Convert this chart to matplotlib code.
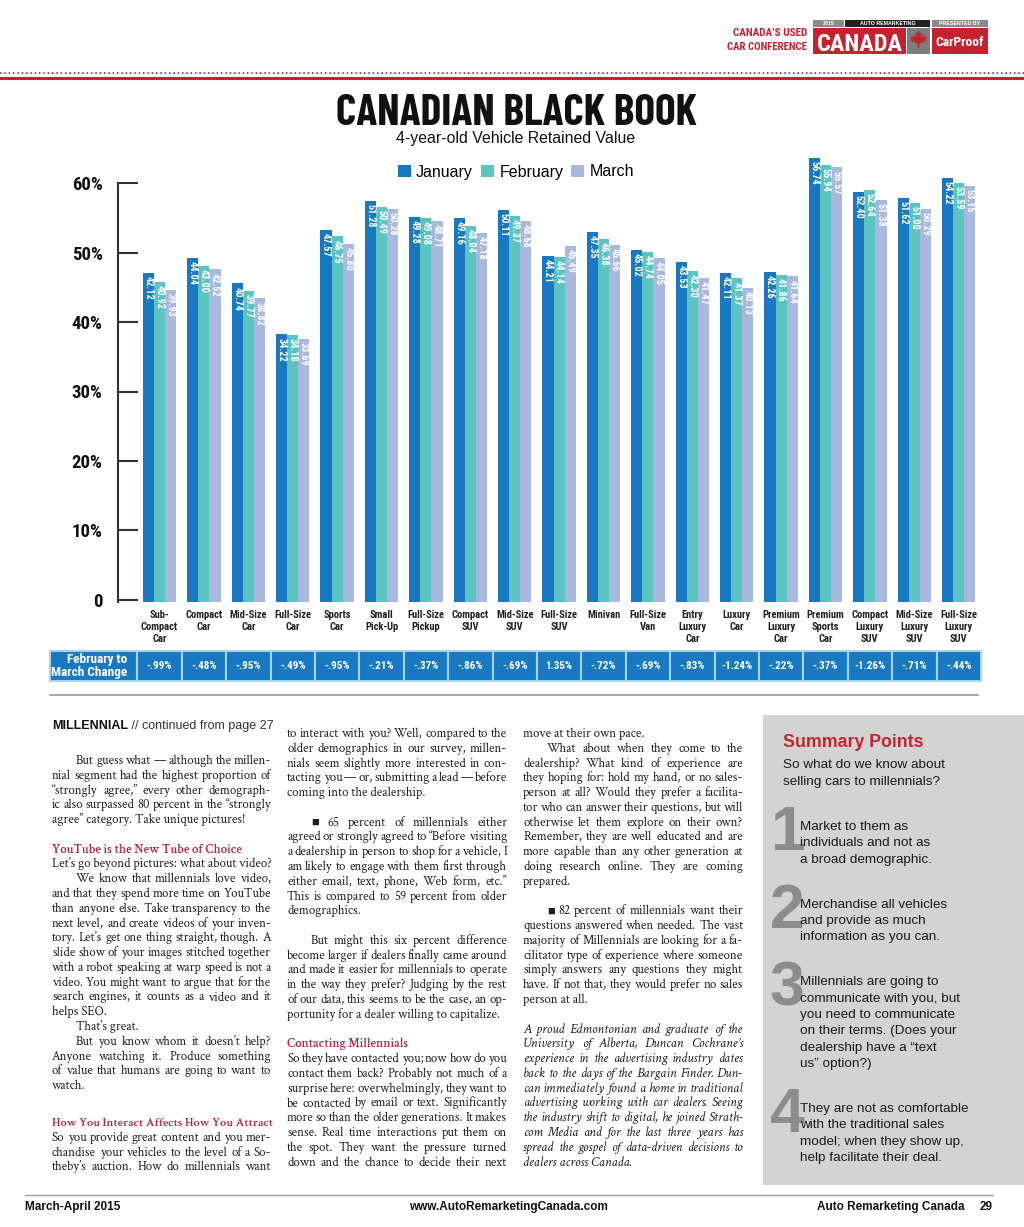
import matplotlib
matplotlib.use("Agg")
import numpy as np
import matplotlib.pyplot as plt
from matplotlib.font_manager import FontProperties
from matplotlib.patches import Rectangle, Polygon

# ---- chart data -------------------------------------------------------------
categories = ["Sub-\nCompact\nCar", "Compact\nCar", "Mid-Size\nCar", "Full-Size\nCar",
              "Sports\nCar", "Small\nPick-Up", "Full-Size\nPickup", "Compact\nSUV",
              "Mid-Size\nSUV", "Full-Size\nSUV", "Minivan", "Full-Size\nVan",
              "Entry\nLuxury\nCar", "Luxury\nCar", "Premium\nLuxury\nCar",
              "Premium\nSports\nCar", "Compact\nLuxury\nSUV", "Mid-Size\nLuxury\nSUV",
              "Full-Size\nLuxury\nSUV"]
january = [42.12, 44.04, 40.74, 34.22, 47.57, 51.28, 49.28, 49.16, 50.11, 44.21,
           47.35, 45.02, 43.53, 42.11, 42.26, 56.74, 52.40, 51.62, 54.22]
february = [40.92, 43.00, 39.77, 34.18, 46.75, 50.49, 49.08, 48.04, 49.37, 44.14,
            46.38, 44.74, 42.30, 41.37, 41.86, 55.94, 52.64, 51.00, 53.59]
march = [39.93, 42.52, 38.82, 33.69, 45.80, 50.28, 48.71, 47.18, 48.68, 45.49,
         45.66, 44.05, 41.47, 40.13, 41.64, 55.57, 51.38, 50.29, 53.15]
change = ["-.99%", "-.48%", "-.95%", "-.49%", "-.95%", "-.21%", "-.37%", "-.86%",
          "-.69%", "1.35%", "-.72%", "-.69%", "-.83%", "-1.24%", "-.22%", "-.37%",
          "-1.26%", "-.71%", "-.44%"]
y_ticks = [0, 10, 20, 30, 40, 50, 60]
y_tick_labels = ["0", "10%", "20%", "30%", "40%", "50%", "60%"]
series_names = ["January", "February", "March"]

# ---- page text --------------------------------------------------------------
col1 = [
    ">But guess what \u2014 although the millen-",
    "nial segment had the highest proportion of",
    "\u201cstrongly agree,\u201d every other demograph-",
    "ic also surpassed 80 percent in the \u201cstrongly",
    "agree\u201d category. Take unique pictures!|",
    "",
    "#YouTube is the New Tube of Choice",
    "Let\u2019s go beyond pictures: what about video?|",
    ">We know that millennials love video,",
    "and that they spend more time on YouTube",
    "than anyone else. Take transparency to the",
    "next level, and create videos of your inven-",
    "tory. Let\u2019s get one thing straight, though.  A",
    "slide show of your images stitched together",
    "with a robot speaking at warp speed is not a",
    "video. You might want to argue that for the",
    "search engines, it counts as a video and it",
    "helps SEO.|",
    ">That\u2019s great.|",
    ">But you know whom it doesn\u2019t help?",
    "Anyone watching it. Produce something",
    "of value that humans are going to want to",
    "watch.|",
    "",
    "..",
    "#How You Interact Affects How You Attract",
    "So you provide great content and you mer-",
    "chandise your vehicles to the level of a So-",
    "theby\u2019s auction. How do millennials want",
]
col2 = [
    "to interact with you? Well, compared to the",
    "older demographics in our survey, millen-",
    "nials seem slightly more interested in con-",
    "tacting you \u2014 or, submitting a lead \u2014 before",
    "coming into the dealership.|",
    "",
    ">\u25a0 65 percent of millennials either",
    "agreed or strongly agreed to \u201cBefore visiting",
    "a dealership in person to shop for a vehicle, I",
    "am likely to engage with them first through",
    "either email, text, phone, Web form, etc.\u201d",
    "This is compared to 59 percent from older",
    "demographics.|",
    "",
    ">But might this six percent difference",
    "become larger if dealers finally came around",
    "and made it easier for millennials to operate",
    "in the way they prefer? Judging by the rest",
    "of our data, this seems to be the case, an op-",
    "portunity for a dealer willing to capitalize.|",
    "",
    "#Contacting Millennials",
    "So they have contacted you; now how do you",
    "contact them back? Probably not much of a",
    "surprise here: overwhelmingly, they want to",
    "be contacted by email or text. Significantly",
    "more so than the older generations. It makes",
    "sense. Real time interactions put them on",
    "the spot. They want the pressure turned",
    "down and the chance to decide their next",
]
col3 = [
    "move at their own pace.|",
    ">What about when they come to the",
    "dealership? What kind of experience are",
    "they hoping for: hold my hand, or no sales-",
    "person at all? Would they prefer a facilita-",
    "tor who can answer their questions, but will",
    "otherwise let them explore on their own?",
    "Remember, they are well educated and are",
    "more capable than any other generation at",
    "doing research online. They are coming",
    "prepared.|",
    "",
    ">\u25a0 82 percent of millennials want their",
    "questions answered when needed. The vast",
    "majority of Millennials are looking for a fa-",
    "cilitator type of experience where someone",
    "simply answers any questions they might",
    "have. If not that, they would prefer no sales",
    "person at all.|",
    "",
    "~A proud Edmontonian and graduate of the",
    "~University of Alberta, Duncan Cochrane\u2019s",
    "~experience in the advertising industry dates",
    "~back to the days of the Bargain Finder.  Dun-",
    "~can immediately found a home in traditional",
    "~advertising working with car dealers.  Seeing",
    "~the industry shift to digital, he joined Strath-",
    "~com Media and for the last three years has",
    "~spread the gospel of data-driven decisions to",
    "~dealers across Canada.|",
]
summary_intro = ["So what do we know about", "selling cars to millennials?"]
summary_points = [
    ["Market to them as", "individuals and not as", "a broad demographic."],
    ["Merchandise all vehicles", "and provide as much", "information as you can."],
    ["Millennials are going to", "communicate with you, but", "you need to communicate",
     "on their terms. (Does your", "dealership have a \u201ctext", "us\u201d option?)"],
    ["They are not as comfortable", "with the traditional sales",
     "model; when they show up,", "help facilitate their deal."],
]

# ---- style ------------------------------------------------------------------
W, H = 1024, 1227
C_JAN, C_FEB, C_MAR = "#1878c1", "#5bc4c1", "#a9b8de"
RED = "#c5212f"
HEAD_RED = "#b3253a"
INK = "#231f20"
COND = ["Roboto Condensed", "PT Sans Narrow", "DejaVu Sans"]
TITLE = ["Barlow Condensed", "Roboto Condensed", "DejaVu Sans"]
SANS = ["Liberation Sans", "DejaVu Sans"]
SERIF = ["Crimson Text", "Liberation Serif", "DejaVu Serif"]

fig = plt.figure(figsize=(W / 100, H / 100), dpi=100)
renderer = fig.canvas.get_renderer()

page = fig.add_axes([0, 0, 1, 1])
page.set_xlim(0, W)
page.set_ylim(H, 0)
page.axis("off")


def tw(s, prop):
    return renderer.get_text_width_height_descent(s, prop, ismath=False)[0]


def space_w(prop):
    return tw("a a", prop) - tw("aa", prop)


def fitted(text, prop, width):
    p = prop.copy()
    p.set_size(p.get_size() * width / tw(text, p))
    return p


def split_words(text):
    return [w for w in text.split(" ") if w]


def natural(text, prop):
    words = split_words(text)
    return sum(tw(w, prop) for w in words) + (len(words) - 1) * space_w(prop)


def parse(raw, x0):
    last = raw.endswith("|")
    t = raw.rstrip("|")
    kind, left = "body", x0
    if t.startswith("#"):
        kind, t, last = "head", t[1:], True
    elif t.startswith("~"):
        kind, t = "ital", t[1:]
    if t.startswith(">"):
        left, t = x0 + 24, t[1:]
    return kind, t, left, last


def calibrate(columns, kind, prop):
    # choose a size so that a typical justified line fills its measure
    ratios = []
    for lines, x0, x1 in columns:
        for raw in lines:
            if raw in ("", ".."):
                continue
            k, t, left, last = parse(raw, x0)
            if k == kind and not last:
                ratios.append(natural(t, prop) / (x1 - left))
    p = prop.copy()
    p.set_size(prop.get_size() * 0.975 / np.median(ratios))
    return p


def put_line(text, x0, x1, y, prop, color, justify):
    if not justify:
        p = prop
        if tw(text, p) > x1 - x0:
            p = fitted(text, p, x1 - x0)
        page.text(x0, y, text, fontproperties=p, color=color, va="baseline")
        return
    p = prop.copy()
    words = split_words(text)
    for _ in range(15):
        widths = [tw(w, p) for w in words]
        gap = (x1 - x0 - sum(widths)) / (len(words) - 1)
        if gap >= 0.6 * space_w(p):
            break
        p.set_size(p.get_size() * 0.985)
    x = x0
    for w, wd in zip(words, widths):
        page.text(x, y, w, fontproperties=p, color=color, va="baseline")
        x += wd + gap


columns = [(col1, 52, 271), (col2, 287, 507), (col3, 523, 743)]
body = calibrate(columns, "body", FontProperties(family=SERIF, size=10))
ital = calibrate(columns, "ital", FontProperties(family=SERIF, size=10, style="italic"))
head = FontProperties(family=SERIF, size=body.get_size(), weight=600)


def draw_column(lines, x0, x1, y, step=14.78):
    for raw in lines:
        if raw == "":
            y += step
            continue
        if raw == "..":
            y += step / 2
            continue
        kind, t, left, last = parse(raw, x0)
        prop = {"body": body, "ital": ital, "head": head}[kind]
        color = HEAD_RED if kind == "head" else INK
        put_line(t, left, x1, y, prop, color, not last)
        y += step


# ---- masthead ---------------------------------------------------------------
hp = FontProperties(family=COND, size=10, weight="bold")
page.text(807, 36, "CANADA\u2019S USED", ha="right", va="baseline", color=RED,
          fontproperties=fitted("CANADA\u2019S USED", hp, 74))
page.text(807, 50, "CAR CONFERENCE", ha="right", va="baseline", color=RED,
          fontproperties=fitted("CAR CONFERENCE", hp, 79))
for (x, w, c, t) in [(813, 31, "#8a8a8a", "2015"), (845, 85, "#222222", "AUTO REMARKETING"),
                     (932, 56, "#8a8a8a", "PRESENTED BY")]:
    page.add_patch(Rectangle((x, 20), w, 7, fc=c, ec="none"))
    page.text(x + w / 2, 23.7, t, ha="center", va="center", color="white", fontsize=3.8,
              family=SANS, fontweight="bold")
page.add_patch(Rectangle((813, 28), 93, 26, fc=RED, ec="none"))
page.text(859.5, 51, "CANADA", ha="center", va="baseline", color="white",
          fontproperties=fitted("CANADA", FontProperties(family=COND, size=20, weight="bold"), 86))
page.add_patch(Rectangle((907, 28), 23, 26, fc="#7d7d7d", ec="none"))
leaf = [(0, 1), (0.18, 0.62), (0.35, 0.72), (0.3, 0.3), (0.62, 0.5), (0.55, 0.32),
        (0.85, 0.28), (0.7, 0.05), (0.78, -0.05), (0.15, -0.35), (0.08, -0.35),
        (0.08, -0.75), (-0.08, -0.75), (-0.08, -0.35), (-0.15, -0.35), (-0.78, -0.05),
        (-0.7, 0.05), (-0.85, 0.28), (-0.55, 0.32), (-0.62, 0.5), (-0.3, 0.3),
        (-0.35, 0.72), (-0.18, 0.62)]
page.add_patch(Polygon([(918.5 + 10 * a, 40 - 10 * b) for a, b in leaf], fc=RED, ec="none"))
page.add_patch(Rectangle((932, 28), 56, 26, fc=RED, ec="none"))
page.text(960, 46, "CarProof", ha="center", va="baseline", color="white",
          fontproperties=fitted("CarProof", FontProperties(family=COND, size=11, weight="bold"), 48))
page.plot([0, W], [72.5, 72.5], color=RED, lw=1.3, ls=(0, (0.8, 1.6)))
page.plot([0, W], [77.5, 77.5], color=RED, lw=2.2)

# ---- chart ------------------------------------------------------------------
page.text(516, 125, "CANADIAN BLACK BOOK", ha="center", va="baseline", color="#111111",
          fontproperties=fitted("CANADIAN BLACK BOOK",
                                FontProperties(family=TITLE, size=30, weight="bold"), 362))
page.text(516, 143, "4-year-old Vehicle Retained Value", ha="center", va="baseline",
          color="#111111",
          fontproperties=fitted("4-year-old Vehicle Retained Value",
                                FontProperties(family=SANS, size=11.5), 239))

frame = [118 / W, 1 - 602 / H, 872 / W, 460 / H]
xmin, xmax = -0.935, -0.935 + 872 / 44.4

# the printed y-scale and the bar scale differ in the original; keep both
axt = fig.add_axes(frame)
axt.patch.set_visible(False)
axt.set_ylim(-2 / 6.95, 458 / 6.95)
axt.set_xlim(0, 1)
for s in ["top", "right", "bottom"]:
    axt.spines[s].set_visible(False)
axt.spines["left"].set_bounds(-2 / 6.95, 60)
axt.spines["left"].set_linewidth(1.5)
axt.spines["left"].set_color("#333333")
axt.set_xticks([])
axt.set_yticks(y_ticks, y_tick_labels)
axt.tick_params(axis="y", direction="in", length=14.4, width=1.5, color="#333333", pad=11)
for lbl in axt.get_yticklabels():
    lbl.set_fontproperties(FontProperties(family=COND, size=13.5, weight="bold"))
    lbl.set_color("#111111")

ax = fig.add_axes(frame)
ax.patch.set_visible(False)
ax.set_xlim(xmin, xmax)
ax.set_ylim(0, 460 / 7.82)
for s in ax.spines.values():
    s.set_visible(False)
ax.set_yticks([])

x = np.arange(len(categories))
bw = 0.25
handles = []
for k, (vals, col, name) in enumerate(zip([january, february, march], [C_JAN, C_FEB, C_MAR],
                                          series_names)):
    pos = x + (k - 1) * bw
    handles.append(ax.bar(pos, vals, bw, color=col, label=name))
    for xi, v in zip(pos, vals):
        ax.text(xi, v - 0.4, f"{v:.2f}", rotation=-90, ha="center", va="top",
                color="white", family=COND, fontsize=7.4, fontweight="bold")

ax.set_xticks(x, categories)
ax.tick_params(axis="x", length=0, pad=6)
for lbl in ax.get_xticklabels():
    lbl.set_fontproperties(FontProperties(family=COND, size=7.6, weight="bold"))
    lbl.set_linespacing(1.2)
    lbl.set_color("#222222")

fig.legend(handles=handles, loc="center", bbox_to_anchor=(516 / W, 1 - 172 / H), ncol=3,
           frameon=False, handlelength=0.8, handleheight=0.8, handletextpad=0.35,
           columnspacing=0.5, prop=FontProperties(family=SANS, size=11.5))

# change row
axr = fig.add_axes([118 / W, 1 - 681 / H, 872 / W, 30 / H])
axr.set_xlim(xmin, xmax)
axr.set_ylim(0, 1)
axr.axis("off")
hx0 = xmin - 68 / 44.4
axr.add_patch(Rectangle((hx0, 0), -0.5 - hx0, 1, fc=C_JAN, ec="#a3d4f2", lw=1.5, clip_on=False))
axr.text(-0.72, 0.5, "February to\nMarch Change", ha="right", va="center", color="white",
         family=COND, fontsize=9.5, fontweight="bold", linespacing=1.0, multialignment="right")
for xi, c in zip(x, change):
    axr.add_patch(Rectangle((xi - 0.5, 0), 1, 1, fc=C_JAN, ec="#a3d4f2", lw=1.5, clip_on=False))
    axr.text(xi, 0.5, c, ha="center", va="center", color="white", family=COND,
             fontsize=8, fontweight="bold")

page.plot([50, 978], [695, 695], color="#9a9a9a", lw=1.2)

# ---- article ----------------------------------------------------------------
bprop = FontProperties(family=SANS, size=9, weight="bold")
page.text(52, 729, "MILLENNIAL", fontproperties=bprop, color="#111111", va="baseline")
page.text(52 + tw("MILLENNIAL", bprop), 729, " // continued from page 27",
          family=SANS, fontsize=9, color="#333333", va="baseline")

draw_column(col1, 52, 271, 764)
draw_column(col2, 287, 507, 737)
draw_column(col3, 523, 743, 737)

# summary box
page.add_patch(Rectangle((763, 715), W - 763, 470, fc="#d3d3d3", ec="none"))
page.text(783, 747, "Summary Points", color="#c0262d", family=SANS, fontsize=12.8,
          fontweight="bold", va="baseline")
sprop = FontProperties(family=SANS, size=9.7)
y = 768
for line in summary_intro:
    page.text(783, y, line, fontproperties=sprop, color="#1a1a1a", va="baseline")
    y += 16.5
y = 830
for n, lines in enumerate(summary_points, start=1):
    page.text(770, y + 20, str(n), color="#8c8c8c", family=SANS, fontsize=45,
              fontweight="bold", va="baseline")
    for line in lines:
        page.text(800, y, line, fontproperties=sprop, color="#1a1a1a", va="baseline")
        y += 16.3
    y += 28.8

# footer
page.plot([25, 993], [1195, 1195], color="#9a9a9a", lw=1)
fprop = FontProperties(family=SANS, size=8.5, weight="bold")
page.text(25, 1210, "March-April 2015", fontproperties=fprop, color="#111111", va="baseline")
page.text(508, 1210, "www.AutoRemarketingCanada.com", fontproperties=fprop,
          color="#111111", va="baseline", ha="center")
page.text(965, 1210, "Auto Remarketing Canada", fontproperties=fprop, color="#111111",
          va="baseline", ha="right")
page.text(993, 1210, "29", fontproperties=fprop, color="#111111", va="baseline", ha="right")

fig.savefig("out.png", dpi=100)
plt.close(fig)
